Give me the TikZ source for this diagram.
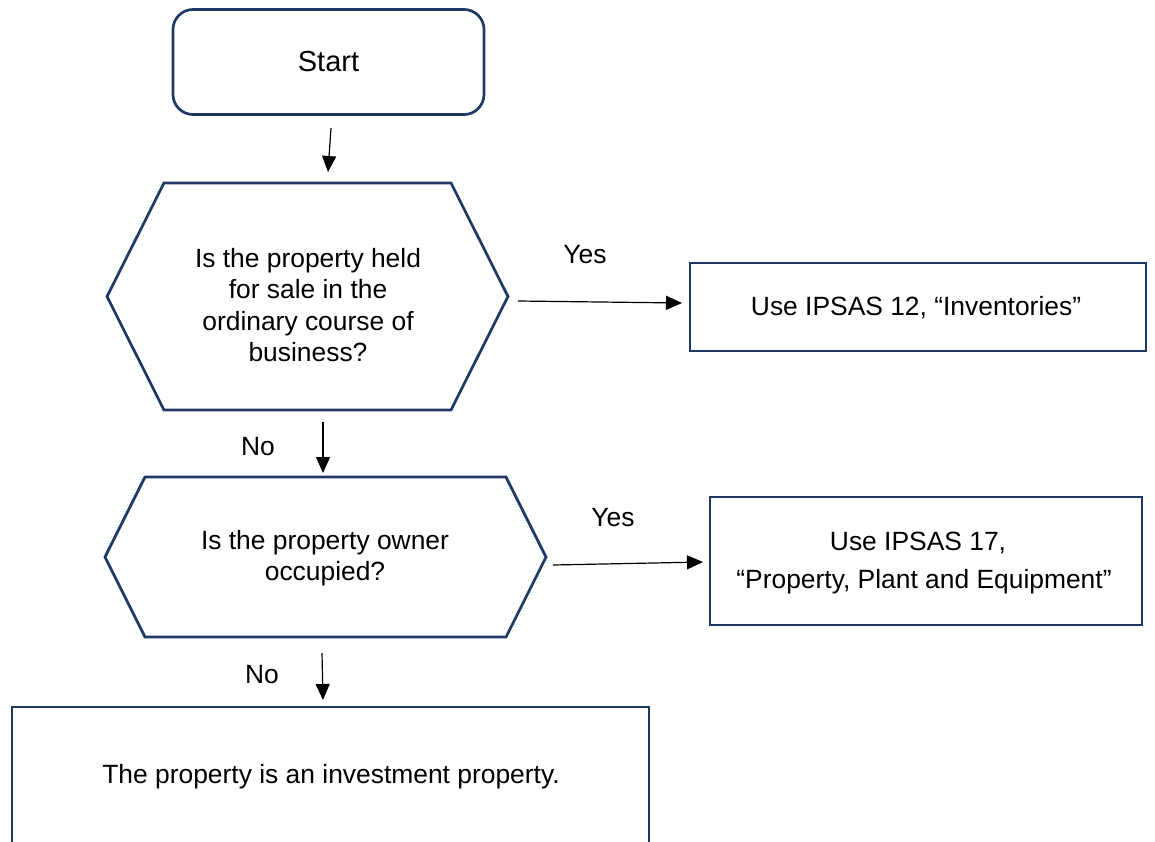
\documentclass[tikz,border=0pt]{standalone}
\usepackage{fontspec}
\setmainfont{Liberation Sans}
\usetikzlibrary{arrows.meta,calc}
\definecolor{navy}{RGB}{31,56,100}
\begin{document}
\begin{tikzpicture}[x=1pt,y=-1pt,
  every node/.style={font=\fontsize{26.4}{31.5}\selectfont, text=black},
  shapeline/.style={draw=navy, line width=2.7pt, line join=miter},
  boxnode/.style={shapeline, rectangle, inner sep=0pt, outer sep=0pt},
  hexnode/.style={rectangle, inner sep=0pt, outer sep=0pt, draw=none},
  txt/.style={align=center, inner sep=0pt},
  arr/.style={draw=black, line width=1.2pt, -{Triangle[length=16pt,width=14pt]}},
  lbl/.style={inner sep=0pt}
]
\useasboundingbox (0,0) rectangle (1155,842);
\clip (0,0) rectangle (1155,842);

% Start
\node[boxnode, rounded corners=20pt, minimum width=311pt, minimum height=105pt, font=\fontsize{29}{34}\selectfont] (start) at (328.5,62) {Start};

% Decision 1
\node[hexnode, minimum width=401pt, minimum height=227pt] (h1) at (307.5,296.5) {};
\draw[shapeline] (h1.west) -- ([xshift=57pt]h1.north west) -- ([xshift=-57pt]h1.north east) -- (h1.east) -- ([xshift=-57pt]h1.south east) -- ([xshift=57pt]h1.south west) -- cycle;
\node[txt] (q1) at (308,305) {Is the property held\\for sale in the\\ordinary course of\\business?};

% Inventories
\node[boxnode, minimum width=456pt, minimum height=88pt] (inv) at (918,307) {};
\node[txt] (invt) at (916,308) {Use IPSAS 12, “Inventories”};

% Decision 2
\node[hexnode, minimum width=441pt, minimum height=160pt] (h2) at (325.5,557) {};
\draw[shapeline] (h2.west) -- ([xshift=40pt]h2.north west) -- ([xshift=-40pt]h2.north east) -- (h2.east) -- ([xshift=-40pt]h2.south east) -- ([xshift=40pt]h2.south west) -- cycle;
\node[txt, font=\fontsize{26.4}{30.5}\selectfont] (q2) at (325,558) {Is the property owner\\occupied?};

% PPE
\node[boxnode, minimum width=432pt, minimum height=128pt] (ppe) at (926,561) {};
\node[txt] (ppe1) at (918,543) {Use IPSAS 17,};
\node[txt] (ppe2) at (924,582) {“Property, Plant and Equipment”};

% Investment property (bottom edge outside the picture)
\node[boxnode, minimum width=637pt, minimum height=140pt] (ip) at (330.5,777) {};
\node[txt] (ipt) at (331,777) {The property is an investment property.};

% connectors
\coordinate (a1s) at (331,128); \coordinate (a1e) at (328,172);
\coordinate (a2s) at (323,422); \coordinate (a2e) at (323,473);
\coordinate (a3s) at (322,653); \coordinate (a3e) at (323,700);
\coordinate (y1s) at (518,301); \coordinate (y1e) at (682,303);
\coordinate (y2s) at (553,565); \coordinate (y2e) at (703,562);
\draw[arr] (a1s) -- (a1e);
\draw[arr] (a2s) -- (a2e);
\draw[arr] (a3s) -- (a3e);
\draw[arr] (y1s) -- (y1e);
\draw[arr] (y2s) -- (y2e);

% labels
\node[lbl] (yes1) at (585,255) {Yes};
\node[lbl] (no1) at (258,447) {No};
\node[lbl] (yes2) at (613,518) {Yes};
\node[lbl] (no2) at (262,675) {No};
\end{tikzpicture}
\end{document}
